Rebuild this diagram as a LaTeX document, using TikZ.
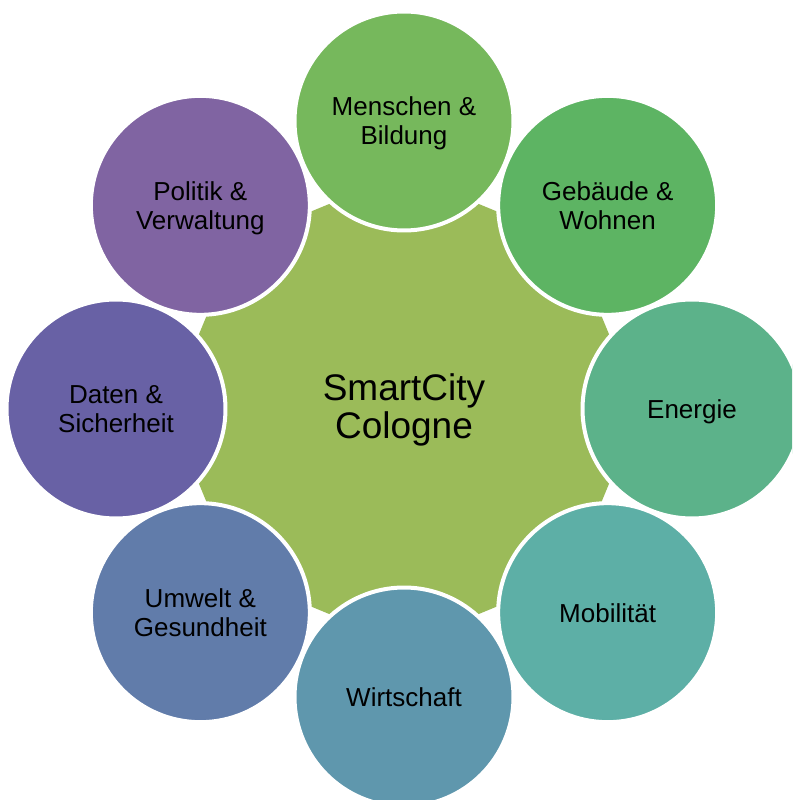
\documentclass[tikz,border=0pt]{standalone}
\usepackage{fontspec}
\setmainfont{Liberation Sans}
\usepackage{xcolor}
\usepackage{tikz}
\usetikzlibrary{positioning}
\definecolor{hubgreen}{HTML}{9BBB59}
\definecolor{menschen}{HTML}{76B85C}
\definecolor{gebaeude}{HTML}{5DB463}
\definecolor{energie}{HTML}{5CB28A}
\definecolor{mobil}{HTML}{5DAFA6}
\definecolor{wirtschaft}{HTML}{5F97AD}
\definecolor{umwelt}{HTML}{617CAA}
\definecolor{daten}{HTML}{6861A5}
\definecolor{politik}{HTML}{8064A2}

\tikzset{
    spoke/.style={circle, minimum size=219pt, inner sep=0pt, draw=white,
        line width=4pt, align=center, text=black, text depth=0pt,
        font=\fontsize{26}{29}\selectfont},
    hubtext/.style={align=center, text=black, text depth=0pt,
        font=\fontsize{37}{38}\selectfont}
}

\begin{document}
\begin{tikzpicture}[x=1pt, y=1pt]

    % =================================================================
    % LAYER 0: THE FRAME
    % =================================================================
    \useasboundingbox (-404,-391) rectangle (388,409);
    \clip (-404,-391) rectangle (388,409);

    % =================================================================
    % LAYER 1: THE HUB OCTAGON
    % =================================================================
    \fill[hubgreen] (0:236) -- (45:236) -- (90:236) -- (135:236)
        -- (180:236) -- (225:236) -- (270:236) -- (315:236) -- cycle;
    \node[hubtext] (hub) at (0,3) {SmartCity\\Cologne};

    % =================================================================
    % LAYER 2: THE 8 TOPIC CIRCLES
    % =================================================================
    \node[spoke, fill=menschen]   (menschen)   at (90:288)  {Menschen \&\\Bildung};
    \node[spoke, fill=gebaeude]   (gebaeude)   at (45:288)  {Gebäude \&\\Wohnen};
    \node[spoke, fill=energie]    (energie)    at (0:288)   {Energie};
    \node[spoke, fill=mobil]      (mobil)      at (-45:288) {Mobilität};
    \node[spoke, fill=wirtschaft] (wirtschaft) at (-90:288) {Wirtschaft};
    \node[spoke, fill=umwelt]     (umwelt)     at (-135:288) {Umwelt \&\\Gesundheit};
    \node[spoke, fill=daten]      (daten)      at (180:288) {Daten \&\\Sicherheit};
    \node[spoke, fill=politik]    (politik)    at (135:288) {Politik \&\\Verwaltung};

\end{tikzpicture}
\end{document}
